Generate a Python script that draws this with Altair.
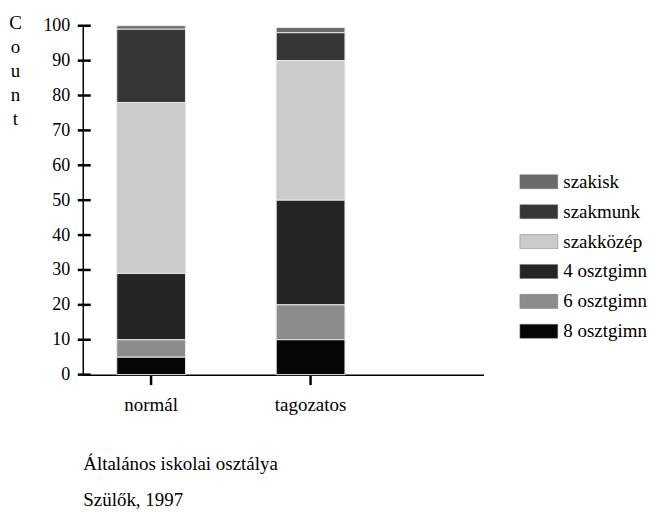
import altair as alt
import pandas as pd

groups = ["normál", "tagozatos"]
categories = ["szakisk", "szakmunk", "szakközép", "4 osztgimn", "6 osztgimn", "8 osztgimn"]
normal_vals = [1, 21, 49, 19, 5, 5]
tagozatos_vals = [1.5, 8, 40, 30, 10, 10]
colors = ["#6a6a6a", "#363636", "#cbcbcb", "#242424", "#8c8c8c", "#050505"]
y_ticks = [0, 10, 20, 30, 40, 50, 60, 70, 80, 90, 100]

rows = []
for g, vals in zip(groups, [normal_vals, tagozatos_vals]):
    for i, (c, v) in enumerate(zip(categories, vals)):
        rows.append({"group": g, "cat": c, "value": v, "rank": len(categories) - 1 - i})
df = pd.DataFrame(rows)
ticks_df = pd.DataFrame({"t": y_ticks})

FONT = "Liberation Serif"

y_axis = alt.Axis(
    values=y_ticks, grid=False, ticks=False, labelOverlap=False,
    domainColor="black", domainWidth=1.5,
    labelFont=FONT, labelFontSize=18, labelColor="black", labelPadding=13,
    title=["C", "o", "u", "n", "t"], titleAngle=0, titleAlign="center",
    titleBaseline="top", titleX=-68, titleY=-12, titleLineHeight=24,
    titleFont=FONT, titleFontSize=19, titleFontWeight="normal", titleColor="black",
)
y_scale = alt.Scale(domain=[0, 100], nice=False)

bars = alt.Chart(df).mark_bar(stroke="#e8e8e8", strokeWidth=1).encode(
    x=alt.X(
        "group:N",
        sort=groups,
        scale=alt.Scale(paddingInner=0.569, paddingOuter=0.541, align=0.197),
        axis=alt.Axis(
            domainColor="black", domainWidth=1.5,
            tickColor="black", tickSize=10, tickWidth=2.5,
            labelAngle=0, labelFont=FONT, labelFontSize=19, labelColor="black",
            labelPadding=11,
            title=["Általános iskolai osztálya", "Szülők, 1997"],
            titleLineHeight=36, titleAnchor="start", titleFont=FONT,
            titleFontSize=19, titleFontWeight="normal", titleColor="black",
            titlePadding=40,
        ),
    ),
    y=alt.Y("value:Q", stack="zero", scale=y_scale, axis=y_axis),
    color=alt.Color(
        "cat:N",
        scale=alt.Scale(domain=categories, range=colors),
        legend=alt.Legend(
            title=None, orient="none", legendX=438, legendY=137,
            symbolType="M-1,-0.37H1V0.37H-1Z", symbolSize=1444,
            symbolStrokeColor="#777", symbolStrokeWidth=0.5,
            labelFont=FONT, labelFontSize=19, labelColor="black",
            labelOffset=5, rowPadding=0,
        ),
    ),
    order=alt.Order("rank:Q", sort="ascending"),
)

tick_rules = alt.Chart(ticks_df).mark_rule(color="black", strokeWidth=2.5).encode(
    y=alt.Y("t:Q", scale=y_scale, axis=y_axis),
    x=alt.value(-5),
    x2=alt.value(8),
)

chart = (
    alt.layer(bars, tick_rules)
    .properties(width=402, height=350, padding={"left": 0, "top": 5, "right": 0, "bottom": 0})
    .configure(font=FONT)
    .configure_view(strokeWidth=0, stroke=None)
)

chart.save("out.html", embed_options={"renderer": "svg", "actions": False})
